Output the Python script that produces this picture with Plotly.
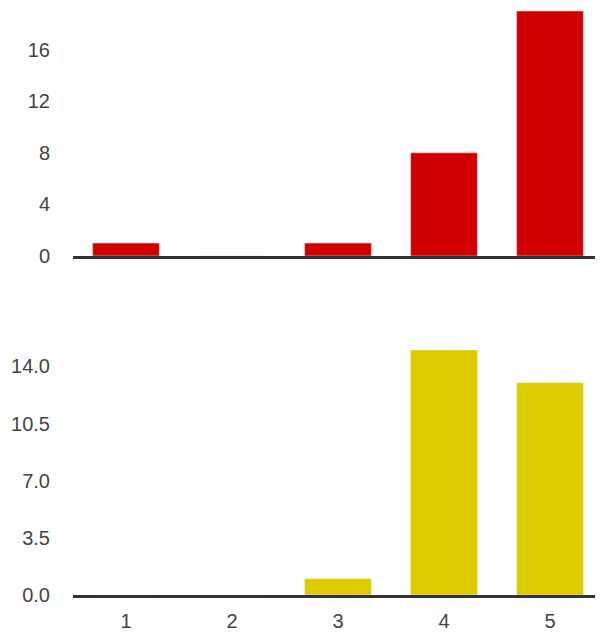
import plotly.graph_objects as go
from plotly.subplots import make_subplots

ratings = [1, 2, 3, 4, 5]
top_counts = [1, 0, 1, 8, 19]
bottom_counts = [0, 0, 1, 15, 13]

RED = '#d10000'
YELLOW = '#ddcb00'
FONT = dict(family='Liberation Sans, Arial, sans-serif', size=20, color='#444444')

fig = make_subplots(rows=2, cols=1, vertical_spacing=0.161)

fig.add_trace(go.Bar(x=ratings, y=top_counts, marker=dict(color=RED),
                     width=0.63, showlegend=False), row=1, col=1)
fig.add_trace(go.Bar(x=ratings, y=bottom_counts, marker=dict(color=YELLOW),
                     width=0.63, showlegend=False), row=2, col=1)

fig.update_xaxes(range=[0.5, 5.5], showgrid=False, zeroline=False,
                 showline=True, linecolor='#333333', linewidth=3,
                 tickmode='array', tickvals=ratings, tickfont=FONT,
                 ticks='', ticklabelstandoff=6)
fig.update_xaxes(showticklabels=False, row=1, col=1)

fig.update_yaxes(showgrid=False, zeroline=False, showline=False,
                 tickfont=FONT, ticks='', ticklabelstandoff=22)
fig.update_yaxes(range=[0, max(top_counts)], tickvals=[0, 4, 8, 12, 16],
                 row=1, col=1)
fig.update_yaxes(range=[0, max(bottom_counts)], tickvals=[0, 3.5, 7, 10.5, 14],
                 tickformat='.1f', row=2, col=1)

# page has an 8px body margin, so shrink the figure to fit the window
fig.update_layout(
    width=595, height=627,
    margin=dict(l=65, r=0, t=3, b=40),
    plot_bgcolor='white',
    paper_bgcolor='white',
    bargap=0.37,
)

fig.write_html("out.html")
